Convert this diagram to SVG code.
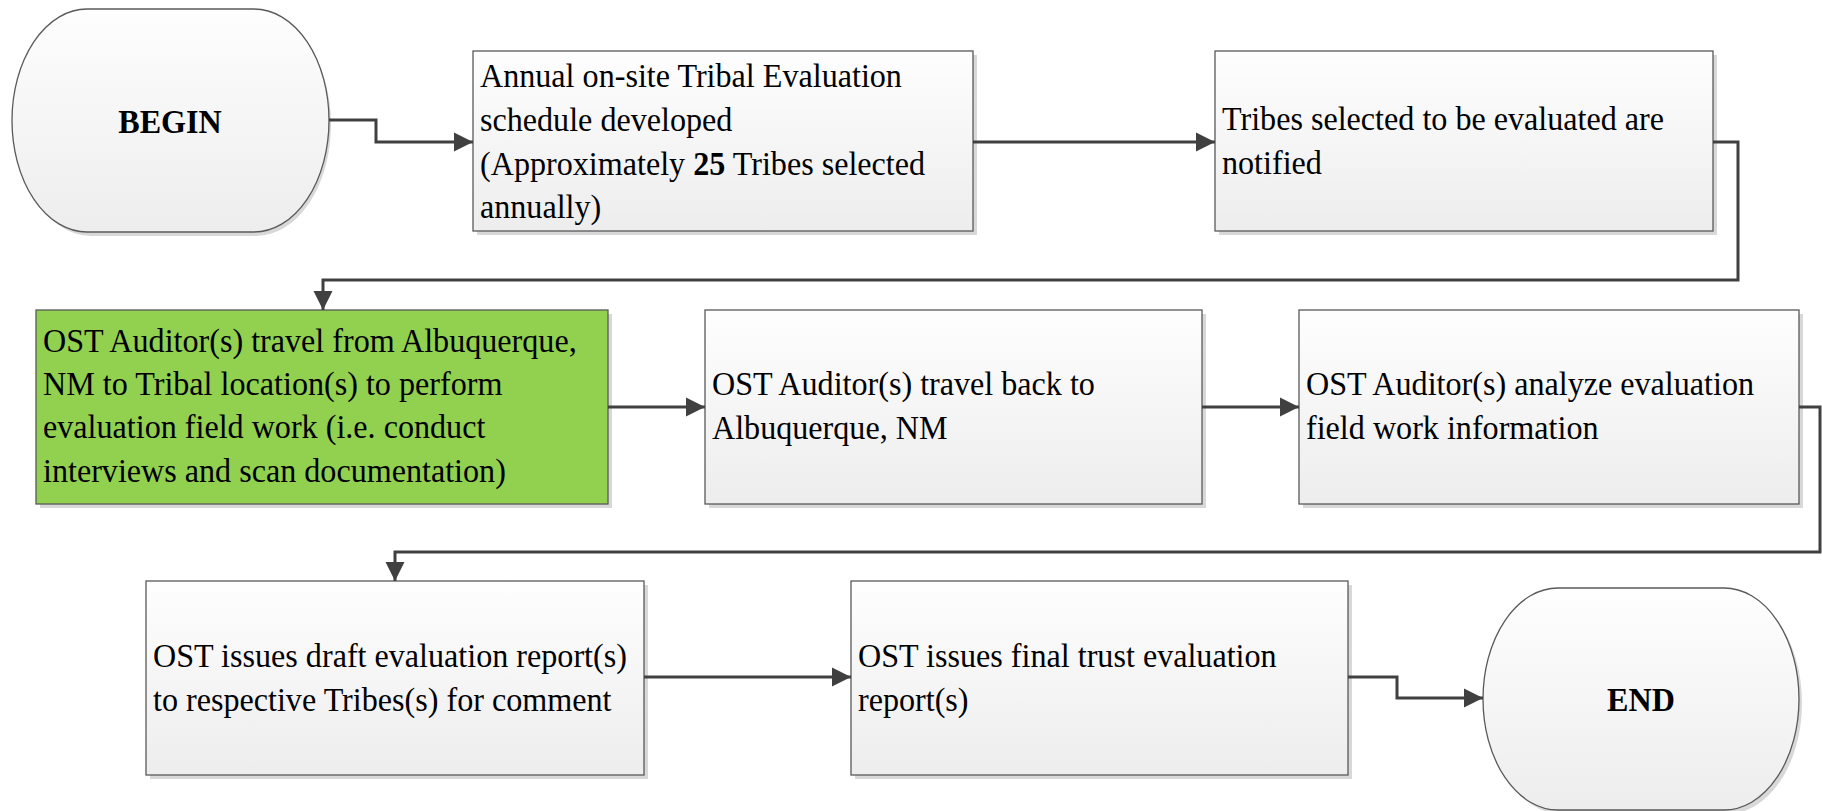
<svg xmlns="http://www.w3.org/2000/svg" width="1822" height="811" viewBox="0 0 1822 811">
<style>
  .box { stroke: #595959; stroke-width: 1.3; }
  .shadow { fill: #d8d8d8; }
  text { font-family: 'Liberation Serif', 'Times New Roman', serif; font-size: 34px; fill: #000; }
  .term { font-weight: bold; }
  .conn { fill: none; stroke: #404040; stroke-width: 3; }
</style>
<defs>
  <linearGradient id="g" x1="0" y1="0" x2="0" y2="1">
    <stop offset="0" stop-color="#fefefe"/>
    <stop offset="1" stop-color="#ededed"/>
  </linearGradient>
  <marker id="arr" viewBox="0 0 10 10" refX="10" refY="5" markerWidth="6.5" markerHeight="7" markerUnits="strokeWidth" orient="auto">
    <path d="M0,0 L10,5 L0,10 Z" fill="#404040"/>
  </marker>
</defs>
<rect width="1822" height="811" fill="#fff"/>

<g id="begin">
  <path class="shadow" d="M91,13 H256 A75,111.5 0 0 1 256,236 H91 A75,111.5 0 0 1 91,13 Z"/>
  <path class="box" fill="url(#g)" d="M87,9 H254 A75,111.5 0 0 1 254,232 H87 A75,111.5 0 0 1 87,9 Z"/>
  <text class="term" transform="translate(170,0) scale(0.945,1)" x="0" y="133" text-anchor="middle">BEGIN</text>
</g>

<g id="n1">
  <rect class="shadow" x="477" y="55" width="500" height="180"/>
  <rect class="box" fill="url(#g)" x="473" y="51" width="500" height="180"/>
  <text transform="translate(480,0) scale(0.945,1)"><tspan x="0" y="87">Annual on-site Tribal Evaluation</tspan><tspan x="0" y="131">schedule developed</tspan><tspan x="0" y="175">(Approximately <tspan font-weight="bold">25</tspan> Tribes selected</tspan><tspan x="0" y="218">annually)</tspan></text>
</g>

<g id="n2">
  <rect class="shadow" x="1219" y="55" width="498" height="180"/>
  <rect class="box" fill="url(#g)" x="1215" y="51" width="498" height="180"/>
  <text transform="translate(1222,0) scale(0.945,1)"><tspan x="0" y="130">Tribes selected to be evaluated are</tspan><tspan x="0" y="174">notified</tspan></text>
</g>

<g id="n3">
  <rect class="shadow" x="40" y="314" width="572" height="194"/>
  <rect class="box" fill="#92d050" x="36" y="310" width="572" height="194"/>
  <text transform="translate(43,0) scale(0.945,1)"><tspan x="0" y="352">OST Auditor(s) travel from Albuquerque,</tspan><tspan x="0" y="395">NM to Tribal location(s) to perform</tspan><tspan x="0" y="438">evaluation field work (i.e. conduct</tspan><tspan x="0" y="482">interviews and scan documentation)</tspan></text>
</g>

<g id="n4">
  <rect class="shadow" x="709" y="314" width="497" height="194"/>
  <rect class="box" fill="url(#g)" x="705" y="310" width="497" height="194"/>
  <text transform="translate(712,0) scale(0.945,1)"><tspan x="0" y="395">OST Auditor(s) travel back to</tspan><tspan x="0" y="439">Albuquerque, NM</tspan></text>
</g>

<g id="n5">
  <rect class="shadow" x="1303" y="314" width="500" height="194"/>
  <rect class="box" fill="url(#g)" x="1299" y="310" width="500" height="194"/>
  <text transform="translate(1306,0) scale(0.945,1)"><tspan x="0" y="395">OST Auditor(s) analyze evaluation</tspan><tspan x="0" y="439">field work information</tspan></text>
</g>

<g id="n6">
  <rect class="shadow" x="150" y="585" width="498" height="194"/>
  <rect class="box" fill="url(#g)" x="146" y="581" width="498" height="194"/>
  <text transform="translate(153,0) scale(0.945,1)"><tspan x="0" y="667">OST issues draft evaluation report(s)</tspan><tspan x="0" y="711">to respective Tribes(s) for comment</tspan></text>
</g>

<g id="n7">
  <rect class="shadow" x="855" y="585" width="497" height="194"/>
  <rect class="box" fill="url(#g)" x="851" y="581" width="497" height="194"/>
  <text transform="translate(858,0) scale(0.945,1)"><tspan x="0" y="667">OST issues final trust evaluation</tspan><tspan x="0" y="711">report(s)</tspan></text>
</g>

<g id="end">
  <path class="shadow" d="M1562,592 H1727 A75,111 0 0 1 1727,814 H1562 A75,111 0 0 1 1562,592 Z"/>
  <path class="box" fill="url(#g)" d="M1558,588 H1724 A75,111 0 0 1 1724,810 H1558 A75,111 0 0 1 1558,588 Z"/>
  <text class="term" transform="translate(1641,0) scale(0.945,1)" x="0" y="711" text-anchor="middle">END</text>
</g>

<g id="connectors">
  <path class="conn" marker-end="url(#arr)" d="M329,120 H376 V142 H473"/>
  <path class="conn" marker-end="url(#arr)" d="M973,142 H1215"/>
  <path class="conn" marker-end="url(#arr)" d="M1713,142 H1738 V280 H323 V310"/>
  <path class="conn" marker-end="url(#arr)" d="M608,407 H705"/>
  <path class="conn" marker-end="url(#arr)" d="M1202,407 H1299"/>
  <path class="conn" marker-end="url(#arr)" d="M1799,407 H1820 V552 H395 V581"/>
  <path class="conn" marker-end="url(#arr)" d="M644,677 H851"/>
  <path class="conn" marker-end="url(#arr)" d="M1348,677 H1397 V698 H1483"/>
</g>
</svg>
